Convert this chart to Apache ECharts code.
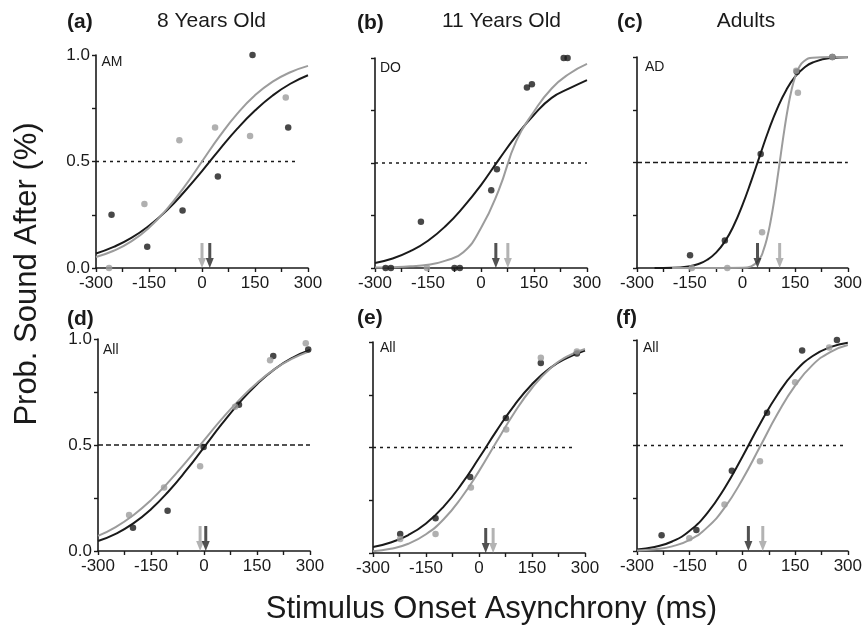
<!DOCTYPE html>
<html><head><meta charset="utf-8">
<script src="https://cdn.jsdelivr.net/npm/echarts@6/dist/echarts.min.js"></script>
<style>html,body{margin:0;padding:0;background:#fff}#c{width:865px;height:627px}</style>
</head><body><div id="c"></div>
<script>
// ---------- DATA ----------
const SOA_FIT = [-300,-250,-200,-150,-100,-50,0,50,100,150,200,250,300];
const X_TICKS = [-300,-150,0,150,300];
const Y_TICKS = [0.0,0.5,1.0];

// (a) 8 Years Old, AM
const A_BLACK = [[-256,0.25],[-155,0.10],[-55,0.27],[45,0.43],[143,1.0],[244,0.66]];
const A_GRAY  = [[-263,0.0],[-163,0.30],[-64,0.60],[37,0.66],[136,0.62],[237,0.80]];
const A_FIT_BLACK = [0.068,0.099,0.141,0.198,0.270,0.358,0.455,0.557,0.654,0.739,0.810,0.865,0.905];
const A_FIT_GRAY  = [0.052,0.081,0.125,0.189,0.275,0.381,0.500,0.619,0.725,0.811,0.875,0.919,0.949];

// (b) 11 Years Old, DO
const B_BLACK = [[-270,0.0],[-255,0.0],[-170,0.22],[-75,0.0],[-60,0.0],[29,0.37],[45,0.47],[130,0.86],[144,0.875],[234,1.0],[245,1.0]];
const B_GRAY  = [[-153,0.0]];
const B_FIT_BLACK = [0.024,0.045,0.080,0.130,0.200,0.290,0.395,0.515,0.630,0.730,0.810,0.855,0.895];
const B_FIT_GRAY  = [0.002,0.004,0.008,0.016,0.035,0.075,0.190,0.370,0.605,0.745,0.855,0.925,0.972];

// (c) Adults, AD
const C_BLACK = [[-149,0.06],[-50,0.13],[52,0.54],[155,0.93],[256,1.0]];
const C_GRAY  = [[-144,0.0],[-43,0.0],[56,0.17],[158,0.83],[153,0.935],[256,1.0]];
const C_FIT_X_BLACK = [-250,-200,-150,-125,-100,-75,-50,-25,0,25,50,75,100,125,150,175,200,250,300];
const C_FIT_BLACK   = [0.0001,0.0013,0.0087,0.019,0.039,0.073,0.125,0.200,0.298,0.412,0.534,0.654,0.759,0.844,0.907,0.948,0.974,0.995,0.999];
const C_FIT_X_GRAY  = [-200,-100,0,25,50,60,70,80,90,100,110,120,130,140,150,160,175,200,250,300];
const C_FIT_GRAY    = [0,0,0.0008,0.0078,0.047,0.085,0.141,0.219,0.316,0.429,0.547,0.662,0.763,0.845,0.905,0.947,0.980,0.997,1.0,1.0];

// (d) All, 8 years
const D_BLACK = [[-201,0.11],[-103,0.19],[-1,0.49],[99,0.69],[196,0.92],[295,0.95]];
const D_GRAY  = [[-212,0.17],[-113,0.30],[-11,0.40],[88,0.68],[187,0.90],[288,0.98]];
const D_FIT_BLACK = [0.047,0.081,0.130,0.197,0.282,0.381,0.489,0.598,0.699,0.787,0.858,0.911,0.948];
const D_FIT_GRAY  = [0.071,0.113,0.169,0.240,0.326,0.422,0.522,0.622,0.713,0.793,0.858,0.907,0.943];

// (e) All, 11 years
const E_BLACK = [[-223,0.09],[-123,0.165],[-25,0.36],[76,0.64],[175,0.90],[277,0.945]];
const E_GRAY  = [[-223,0.066],[-123,0.09],[-23,0.31],[77,0.585],[175,0.925],[277,0.955]];
const E_FIT_BLACK = [0.028,0.050,0.085,0.140,0.220,0.325,0.450,0.580,0.700,0.800,0.875,0.925,0.960];
const E_FIT_GRAY  = [0.008,0.020,0.044,0.089,0.160,0.262,0.388,0.528,0.665,0.782,0.872,0.932,0.967];

// (f) All, adults
const F_BLACK = [[-230,0.075],[-131,0.10],[-30,0.38],[70,0.655],[170,0.95],[269,1.0]];
const F_GRAY  = [[-151,0.06],[-51,0.22],[50,0.425],[150,0.80],[247,0.965]];
const F_FIT_BLACK = [0.007,0.019,0.045,0.096,0.180,0.300,0.447,0.602,0.742,0.851,0.924,0.966,0.987];
const F_FIT_GRAY  = [0.002,0.008,0.022,0.053,0.112,0.207,0.339,0.494,0.650,0.784,0.882,0.943,0.976];

// points of subjective simultaneity (arrows), ms
const PSE_BLACK = [22, 42, 43, 5, 19, 17];
const PSE_GRAY  = [0, 76, 106, -11, 40, 58];
// 0.5 reference line: x extent end
const REF_END = [270, 300, 300, 300, 272, 292];

const PANEL_LETTERS = ['(a)','(b)','(c)','(d)','(e)','(f)'];
const COLUMN_TITLES = ['8 Years Old','11 Years Old','Adults'];
const CORNER_LABELS = ['AM','DO','AD','All','All','All'];

// ---------- LAYOUT / STYLE ----------
const BLACK = '#1a1a1a', GRAY = '#9c9c9c';
const FONT = 'Liberation Sans, Arial, Helvetica, sans-serif';
const GRIDS = [
  {left:96, top:55, width:212, height:213},
  {left:375, top:58, width:212, height:210},
  {left:637, top:57, width:211, height:211},
  {left:98, top:339, width:212, height:212},
  {left:373, top:342, width:212, height:211},
  {left:637, top:340, width:212, height:211}
];
const DASH = [[3,4],[3,4],[5,3],[5,3],[3,4],[3,4]];
const ARROW = 'path://M2.5,0 L5.5,0 L5.5,15 L8,15 L4,25 L0,15 L2.5,15 Z';

const zip = (xs, ys) => xs.map((x, i) => [x, ys[i]]);
const PANELS = [
  {black:A_BLACK, gray:A_GRAY, fb:zip(SOA_FIT,A_FIT_BLACK), fg:zip(SOA_FIT,A_FIT_GRAY)},
  {black:B_BLACK, gray:B_GRAY, fb:zip(SOA_FIT,B_FIT_BLACK), fg:zip(SOA_FIT,B_FIT_GRAY)},
  {black:C_BLACK, gray:C_GRAY, fb:zip(C_FIT_X_BLACK,C_FIT_BLACK), fg:zip(C_FIT_X_GRAY,C_FIT_GRAY)},
  {black:D_BLACK, gray:D_GRAY, fb:zip(SOA_FIT,D_FIT_BLACK), fg:zip(SOA_FIT,D_FIT_GRAY)},
  {black:E_BLACK, gray:E_GRAY, fb:zip(SOA_FIT,E_FIT_BLACK), fg:zip(SOA_FIT,E_FIT_GRAY)},
  {black:F_BLACK, gray:F_GRAY, fb:zip(SOA_FIT,F_FIT_BLACK), fg:zip(SOA_FIT,F_FIT_GRAY)}
];

const axisLine = {show:true, onZero:false, lineStyle:{color:BLACK, width:1.6}};
const tick = {show:true, length:4, lineStyle:{color:BLACK, width:1.4}};

const xAxis = GRIDS.map((g, i) => ({
  gridIndex:i, type:'value', min:X_TICKS[0], max:X_TICKS[X_TICKS.length-1], interval:X_TICKS[1]-X_TICKS[0],
  axisLine, axisTick:tick,
  minorTick:{show:true, splitNumber:2, length:4, lineStyle:{color:BLACK, width:1.4}},
  splitLine:{show:false}, minorSplitLine:{show:false},
  axisLabel:{show:true, fontSize:17, color:BLACK, fontFamily:FONT, margin:7, showMinLabel:true, showMaxLabel:true}
}));
const yAxis = GRIDS.map((g, i) => ({
  gridIndex:i, type:'value', min:Y_TICKS[0], max:Y_TICKS[Y_TICKS.length-1], interval:Y_TICKS[1]-Y_TICKS[0],
  axisLine, axisTick:tick,
  minorTick:{show:true, splitNumber:2, length:4, lineStyle:{color:BLACK, width:1.4}},
  splitLine:{show:false}, minorSplitLine:{show:false},
  axisLabel:{show:(i % 3 === 0), fontSize:17, color:BLACK, fontFamily:FONT, margin:6,
    formatter:v => v.toFixed(1), showMinLabel:true, showMaxLabel:true}
}));

const series = [];
PANELS.forEach((p, i) => {
  const ax = {xAxisIndex:i, yAxisIndex:i};
  series.push(Object.assign({type:'line', data:[[-300,0.5],[REF_END[i],0.5]], symbol:'none', silent:true,
    lineStyle:{color:BLACK, width:1.5, type:DASH[i]}, z:1}, ax));
  series.push(Object.assign({type:'line', data:p.fb, smooth:0.5, symbol:'none',
    lineStyle:{color:BLACK, width:2}, z:2}, ax));
  series.push(Object.assign({type:'line', data:p.fg, smooth:0.5, symbol:'none',
    lineStyle:{color:GRAY, width:2}, z:2}, ax));
  series.push(Object.assign({type:'scatter', data:p.black, symbolSize:6.5, itemStyle:{color:BLACK}, z:3}, ax));
  series.push(Object.assign({type:'scatter', data:p.gray, symbolSize:6.5, itemStyle:{color:GRAY}, z:3}, ax));
  series.push(Object.assign({type:'scatter', data:[[PSE_GRAY[i],0]], symbol:ARROW, symbolSize:[8,25],
    symbolOffset:[0,'-50%'], itemStyle:{color:'#a0a0a0'}, z:4}, ax));
  series.push(Object.assign({type:'scatter', data:[[PSE_BLACK[i],0]], symbol:ARROW, symbolSize:[8,25],
    symbolOffset:[0,'-50%'], itemStyle:{color:'#262626'}, z:5}, ax));
});

const txt = (x, y, text, font, align, rot) => ({
  type:'text', x, y, rotation:rot || 0, silent:true,
  style:{text, font, fill:BLACK, textAlign:align, textVerticalAlign:'middle', textBaseline:'middle', verticalAlign:'middle'}
});
const LETTER_POS = [[67,22],[357,23],[617,22],[67,319],[357,318],[616,318]];
const TITLE_POS = [[211.5,21],[501.5,21],[746,21]];
const CORNER_POS = [[101.5,62],[380,68],[645,67],[103,350],[380,348],[643,348]];
const graphic = [];
PANEL_LETTERS.forEach((t, i) => graphic.push(txt(LETTER_POS[i][0], LETTER_POS[i][1], t, 'bold 21px ' + FONT, 'left')));
COLUMN_TITLES.forEach((t, i) => graphic.push(txt(TITLE_POS[i][0], TITLE_POS[i][1], t, '21px ' + FONT, 'center')));
CORNER_LABELS.forEach((t, i) => graphic.push(txt(CORNER_POS[i][0], CORNER_POS[i][1], t, '14px ' + FONT, 'left')));
graphic.push(txt(27, 274, 'Prob. Sound After (%)', '31px ' + FONT, 'center', Math.PI / 2));
graphic.push(txt(491.5, 609, 'Stimulus Onset Asynchrony (ms)', '31px ' + FONT, 'center'));

const chart = echarts.init(document.getElementById('c'), null, {renderer:'canvas'});
chart.setOption({
  animation:false, backgroundColor:'#fff',
  grid:GRIDS.map(g => Object.assign({containLabel:false}, g)),
  xAxis, yAxis, series, graphic
});
</script></body></html>
